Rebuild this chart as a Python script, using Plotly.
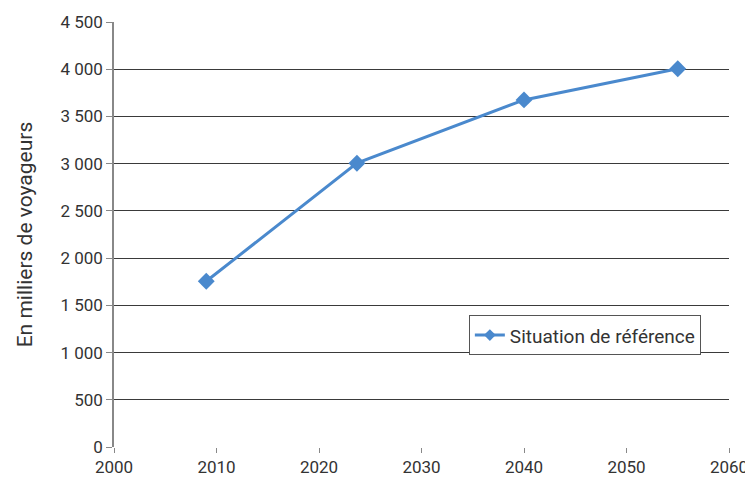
import plotly.graph_objects as go

# Values
years = [2009, 2023.7, 2040, 2055]
voyageurs = [1755, 3005, 3675, 4005]
series_name = "Situation de référence"
y_title = "En milliers de voyageurs"

y_ticks = [0, 500, 1000, 1500, 2000, 2500, 3000, 3500, 4000, 4500]
y_labels = ["0", "500", "1 000", "1 500", "2 000", "2 500", "3 000", "3 500", "4 000", "4 500"]
x_ticks = [2000, 2010, 2020, 2030, 2040, 2050, 2060]

blue = "#4A89CD"

fig = go.Figure()
fig.add_trace(go.Scatter(
    x=years,
    y=voyageurs,
    mode="lines+markers",
    name=series_name,
    showlegend=False,
    line=dict(color=blue, width=3),
    marker=dict(symbol="diamond", size=13, color=blue),
    cliponaxis=False,
))
# legend entry only (smaller marker, as in the original legend)
fig.add_trace(go.Scatter(
    x=[None],
    y=[None],
    mode="lines+markers",
    name=series_name,
    line=dict(color=blue, width=3),
    marker=dict(symbol="diamond", size=9, color=blue),
))

# page body has an 8px margin, so the figure is sized to fit the window
fig.update_layout(
    width=745,
    height=473,
    paper_bgcolor="white",
    plot_bgcolor="white",
    font=dict(family="Roboto, Open Sans, sans-serif", size=17, color="#333333"),
    margin=dict(l=106, r=24, t=14, b=34),
    legend=dict(
        x=0.577, y=0.31,
        xanchor="left", yanchor="top",
        bordercolor="#555555",
        borderwidth=1,
        bgcolor="white",
        font=dict(size=19, color="#333333"),
    ),
    annotations=[dict(
        text=y_title,
        xref="paper", yref="paper",
        x=-0.145, y=0.5,
        xanchor="center", yanchor="middle",
        textangle=-90,
        showarrow=False,
        font=dict(size=21, color="#333333"),
    )],
)

fig.update_xaxes(
    range=[2000, 2060],
    tickvals=x_ticks,
    showgrid=False,
    zeroline=False,
    showline=False,
    automargin=False,
    ticks="outside",
    ticklen=5,
    tickcolor="#888888",
)

fig.update_yaxes(
    range=[0, 4500],
    tickvals=y_ticks,
    ticktext=y_labels,
    showgrid=True,
    gridcolor="#3a3a3a",
    gridwidth=1,
    zeroline=False,
    showline=True,
    linecolor="#888888",
    linewidth=1.5,
    automargin=False,
    ticks="outside",
    ticklen=6,
    tickcolor="#888888",
)

fig.write_html("out.html")
